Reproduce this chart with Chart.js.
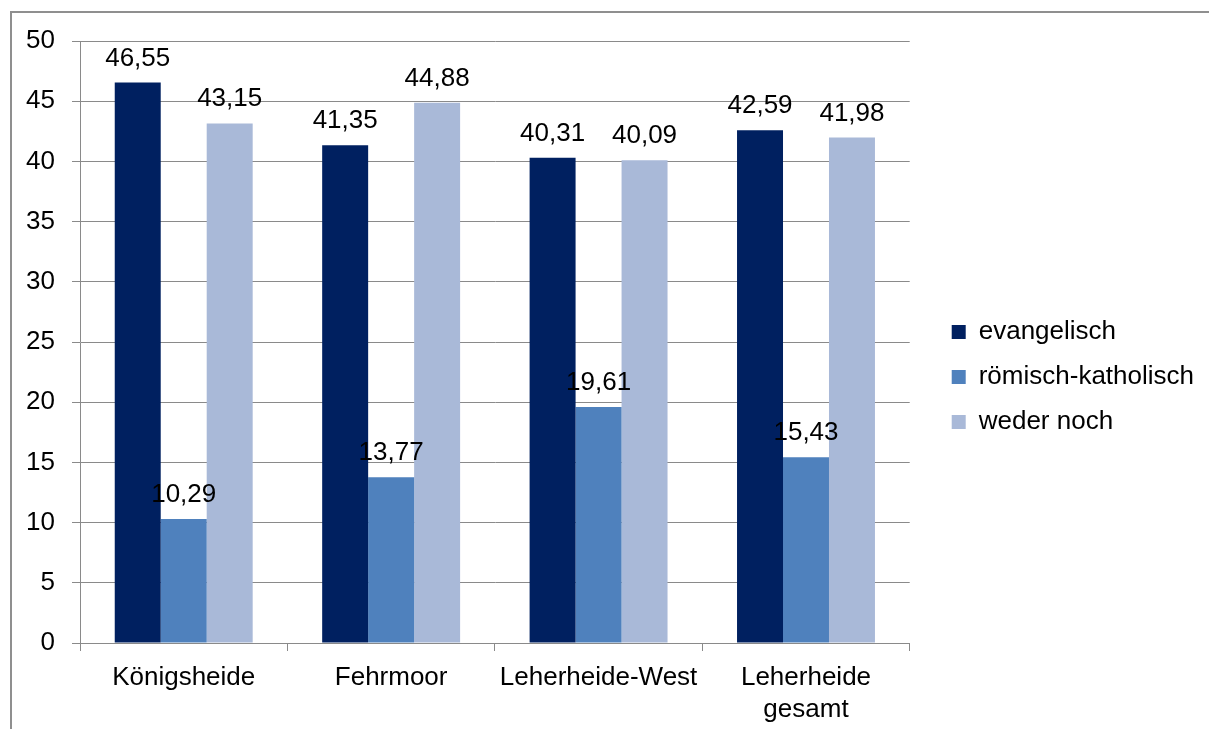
<!DOCTYPE html>
<html lang="de">
<head>
<meta charset="utf-8">
<script src="https://cdn.jsdelivr.net/npm/chart.js@4/dist/chart.umd.min.js"></script>
<style>
  html, body { margin: 0; padding: 0; background: #fff; overflow: hidden; }
  #wrap { position: relative; width: 1209px; height: 729px; }
  #frame { position: absolute; left: 10px; top: 11px; width: 1400px; height: 900px;
           border-left: 2px solid #8f8f8f; border-top: 2px solid #8f8f8f; }
  #chart { position: absolute; left: 0; top: 0; }
</style>
</head>
<body>
<div id="wrap">
  <div id="frame"></div>
  <canvas id="chart" width="1209" height="729"></canvas>
</div>
<script>
// ==========================================
// 1. Daten
// ==========================================
const categories = ['Königsheide', 'Fehrmoor', 'Leherheide-West', ['Leherheide', 'gesamt']];
const seriesNames = ['evangelisch', 'römisch-katholisch', 'weder noch'];
const evangelisch = [46.55, 41.35, 40.31, 42.59];
const katholisch = [10.29, 13.77, 19.61, 15.43];
const wederNoch = [43.15, 44.88, 40.09, 41.98];
const yTicks = [0, 5, 10, 15, 20, 25, 30, 35, 40, 45, 50];

const colors = ['#002060', '#4f81bd', '#a9b9d8'];
const gridColor = '#8a8a8a';
const fontFamily = '"Liberation Sans", Arial, Helvetica, sans-serif';
const fontSize = 26;

// ==========================================
// 2. Kleine Plugins (Werte über Balken, Legende verschieben)
// ==========================================
const valueLabels = {
    id: 'valueLabels',
    afterDatasetsDraw(chart) {
        const ctx = chart.ctx;
        ctx.save();
        ctx.font = fontSize + 'px ' + fontFamily;
        ctx.fillStyle = '#000';
        ctx.textAlign = 'center';
        ctx.textBaseline = 'alphabetic';
        chart.data.datasets.forEach((ds, i) => {
            chart.getDatasetMeta(i).data.forEach((bar, j) => {
                const txt = ds.data[j].toFixed(2).replace('.', ',');
                ctx.fillText(txt, bar.x, bar.y - 17);
            });
        });
        ctx.restore();
    }
};

// legende etwas weiter nach rechts, wie im original
const legendShift = {
    id: 'legendShift',
    afterLayout(chart) {
        const lg = chart.legend;
        if (!lg) return;
        lg.left += 23; lg.right += 23;
        lg.top -= 8; lg.bottom -= 8;
    }
};

// ==========================================
// 3. Diagramm
// ==========================================
new Chart(document.getElementById('chart'), {
    type: 'bar',
    data: {
        labels: categories,
        datasets: [
            { label: seriesNames[0], data: evangelisch, backgroundColor: colors[0] },
            { label: seriesNames[1], data: katholisch, backgroundColor: colors[1] },
            { label: seriesNames[2], data: wederNoch, backgroundColor: colors[2] }
        ]
    },
    options: {
        responsive: false,
        animation: false,
        devicePixelRatio: 1,
        layout: { padding: { left: 0, top: 41, right: 28, bottom: 0 } },
        datasets: { bar: { categoryPercentage: 0.665, barPercentage: 1.0, borderWidth: 0 } },
        plugins: {
            tooltip: { enabled: false },
            legend: {
                position: 'right',
                labels: {
                    boxWidth: 14, boxHeight: 14, padding: 19, color: '#000',
                    font: { family: fontFamily, size: fontSize }
                }
            }
        },
        scales: {
            x: {
                afterFit: s => { s.height = 86; },
                grid: { display: true, drawOnChartArea: false, drawTicks: true, tickLength: 8, color: gridColor, offset: true },
                border: { display: true, color: gridColor },
                ticks: { color: '#000', padding: 11, maxRotation: 0, autoSkip: false,
                         font: { family: fontFamily, size: fontSize, lineHeight: 1.22 } }
            },
            y: {
                min: 0, max: 50,
                afterFit: s => { s.width = 80; },
                afterBuildTicks: s => { s.ticks = yTicks.map(v => ({ value: v })); },
                grid: { color: gridColor, tickLength: 8, drawTicks: true },
                border: { display: true, color: gridColor },
                ticks: { color: '#000', padding: 17, font: { family: fontFamily, size: fontSize } }
            }
        }
    },
    plugins: [valueLabels, legendShift]
});
</script>
</body>
</html>
